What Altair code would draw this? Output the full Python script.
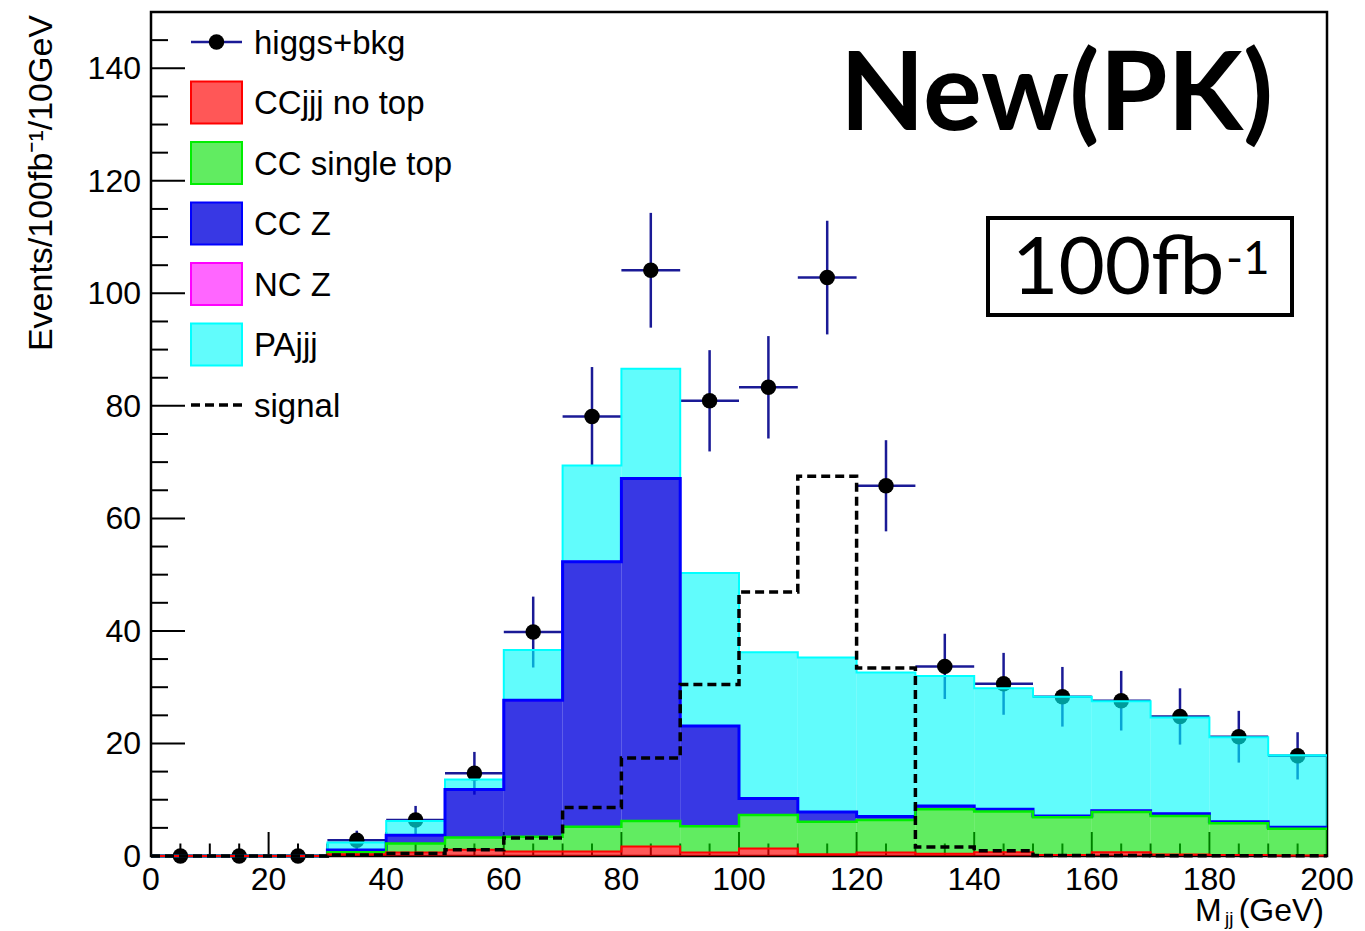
import altair as alt
import pandas as pd

# ---------------------------------------------------------------------------
# Dijet invariant-mass histogram, 10 GeV bins from 0 to 200 GeV
# ---------------------------------------------------------------------------
bin_low = list(range(0, 200, 10))

# background components (events per bin), stacked bottom to top
cc_notop = [0, 0, 0, 0.3, 0.6, 1.1, 0.8, 0.8, 1.7, 0.6,
            1.35, 0.3, 0.6, 0.4, 0.65, 0.2, 0.65, 0.25, 0.2, 0.1]
cc_singletop = [0, 0, 0, 0.35, 1.6, 2.2, 2.6, 4.4, 4.5, 4.7,
                5.95, 5.8, 5.8, 7.9, 7.25, 6.7, 7.15, 6.85, 5.6, 4.75]
cc_z = [0, 0, 0, 0.4, 1.5, 8.5, 24.3, 47.1, 60.9, 17.8,
        2.9, 1.7, 0.6, 0.6, 0.4, 0.2, 0.25, 0.4, 0.3, 0.25]
nc_z = [0, 0, 0, 0, 0, 0, 0, 0, 0, 0,
        0, 0, 0, 0, 0, 0, 0, 0, 0, 0]
pa_jjj = [0, 0, 0, 1.35, 2.5, 1.8, 8.9, 17.1, 19.5, 27.2,
          26.0, 27.5, 25.6, 23.1, 21.5, 21.2, 19.45, 17.1, 15.0, 12.8]

# higgs signal alone
signal = [0, 0, 0, 0.2, 0.45, 1.1, 3.2, 8.6, 17.4, 30.5,
          46.9, 67.5, 33.4, 1.6, 0.95, 0.1, 0.1, 0.05, 0.05, 0.05]

# pseudo-data (higgs + background) with statistical errors
data_vals = [0, 0, 0, 2.8, 6.4, 14.7, 39.8, 78.1, 104.1, 80.9,
             83.3, 102.8, 65.8, 33.7, 30.6, 28.3, 27.6, 24.8, 21.2, 17.8]
data_err = [0, 0, 0, 1.7, 2.5, 3.8, 6.3, 8.8, 10.2, 9.0,
            9.1, 10.1, 8.1, 5.8, 5.5, 5.3, 5.3, 5.0, 4.6, 4.2]

# axis tick labels
x_labels = [0, 20, 40, 60, 80, 100, 120, 140, 160, 180, 200]
y_labels = [0, 20, 40, 60, 80, 100, 120, 140]

processes = ["CCjjj no top", "CC single top", "CC Z", "NC Z", "PAjjj"]
series = [cc_notop, cc_singletop, cc_z, nc_z, pa_jjj]
fill_rgba = ["rgba(255,0,0,0.66)", "rgba(0,225,0,0.62)", "rgba(0,0,220,0.78)",
             "rgba(255,0,255,0.6)", "rgba(0,250,250,0.62)"]
line_col = ["#ff0000", "#00ee00", "#0000ff", "#ff00ff", "#00ffff"]
line_w = [2, 2.5, 3, 2, 2]

BIN_W = 10
X_MAX = 200
Y_MAX = 150
W, H = 1176, 844
FONT = "Liberation Sans"
ERR_COLOR = "#1a1a96"

# ---------------------------------------------------------------------------
# tables
# ---------------------------------------------------------------------------
stack_rows, outline_rows = [], []
cum = [0.0] * len(bin_low)
for proc, vals in zip(processes, series):
    tops = []
    for i, lo in enumerate(bin_low):
        bottom = cum[i]
        top = cum[i] + vals[i]
        stack_rows.append(dict(proc=proc, lo=lo, hi=lo + BIN_W, bottom=bottom, top=top))
        tops.append(top)
        cum[i] = top
    for i, lo in enumerate(bin_low):
        outline_rows.append(dict(proc=proc, edge=lo, top=tops[i]))
    outline_rows.append(dict(proc=proc, edge=X_MAX, top=tops[-1]))
stack_df = pd.DataFrame(stack_rows)
outline_df = pd.DataFrame(outline_rows)

sig_df = pd.DataFrame({"edge": bin_low + [X_MAX], "val": signal + [signal[-1]]})

pts_df = pd.DataFrame({
    "lo": bin_low,
    "hi": [b + BIN_W for b in bin_low],
    "mid": [b + BIN_W / 2 for b in bin_low],
    "val": data_vals,
    "elo": [v - e for v, e in zip(data_vals, data_err)],
    "ehi": [v + e for v, e in zip(data_vals, data_err)],
})

xs = alt.Scale(domain=[0, X_MAX], nice=False, zero=False)
ys = alt.Scale(domain=[0, Y_MAX], nice=False, zero=False)


def X(field, **kw):
    return alt.X(field, scale=xs, axis=None, **kw)


def Y(field, **kw):
    return alt.Y(field, scale=ys, axis=None, **kw)


# ---------------------------------------------------------------------------
# ROOT-style frame axes: inward ticks and labels
# ---------------------------------------------------------------------------
y_tick_df = pd.DataFrame({"v": list(range(0, 146, 5))})
y_tick_df["major"] = y_tick_df["v"] % 20 == 0
x_tick_df = pd.DataFrame({"v": list(range(0, 201, 5))})
x_tick_df["major"] = x_tick_df["v"] % 20 == 0

y_major = alt.Chart(y_tick_df[y_tick_df.major]).mark_rule(color="black", strokeWidth=2).encode(
    y=Y("v:Q"), x=alt.value(0), x2=alt.value(34))
y_minor = alt.Chart(y_tick_df[~y_tick_df.major]).mark_rule(color="black", strokeWidth=2).encode(
    y=Y("v:Q"), x=alt.value(0), x2=alt.value(17))
x_major = alt.Chart(x_tick_df[x_tick_df.major]).mark_rule(color="black", strokeWidth=2).encode(
    x=X("v:Q"), y=alt.value(H), y2=alt.value(H - 24))
x_minor = alt.Chart(x_tick_df[~x_tick_df.major]).mark_rule(color="black", strokeWidth=2).encode(
    x=X("v:Q"), y=alt.value(H), y2=alt.value(H - 12.5))

y_tick_labels = alt.Chart(pd.DataFrame({"v": y_labels})).mark_text(
    align="right", baseline="middle", font=FONT, fontSize=32, color="black", dy=1).encode(
    y=Y("v:Q"), x=alt.value(-10), text=alt.Text("v:Q"))
x_tick_labels = alt.Chart(pd.DataFrame({"v": x_labels})).mark_text(
    align="center", baseline="alphabetic", font=FONT, fontSize=32, color="black").encode(
    x=X("v:Q"), y=alt.value(H + 34), text=alt.Text("v:Q"))

# ---------------------------------------------------------------------------
# pseudo-data: error bars and markers
# ---------------------------------------------------------------------------
base_pts = alt.Chart(pts_df)
err_v = base_pts.mark_rule(color=ERR_COLOR, strokeWidth=2.5).encode(
    x=X("mid:Q"), y=Y("elo:Q"), y2="ehi:Q")
err_h = base_pts.mark_rule(color=ERR_COLOR, strokeWidth=2.5).encode(
    x=X("lo:Q"), x2="hi:Q", y=Y("val:Q"))
markers = base_pts.mark_circle(color="black", opacity=1, size=240).encode(
    x=X("mid:Q"), y=Y("val:Q"))

# ---------------------------------------------------------------------------
# stacked background histogram
# ---------------------------------------------------------------------------
fills = alt.Chart(stack_df).mark_rect(strokeWidth=0).encode(
    x=X("lo:Q"), x2="hi:Q",
    y=Y("bottom:Q"), y2="top:Q",
    color=alt.Color("proc:N", scale=alt.Scale(domain=processes, range=fill_rgba), legend=None),
)

outline_layers = []
for proc, col, lw in reversed(list(zip(processes, line_col, line_w))):
    outline_layers.append(
        alt.Chart(outline_df[outline_df.proc == proc]).mark_line(
            interpolate="step-after", color=col, strokeWidth=lw).encode(
            x=X("edge:Q"), y=Y("top:Q"))
    )

signal_line = alt.Chart(sig_df).mark_line(
    interpolate="step-after", color="black", strokeWidth=3.5, strokeDash=[9, 5]).encode(
    x=X("edge:Q"), y=Y("val:Q"))

# ---------------------------------------------------------------------------
# legend (top-left, no border)
# ---------------------------------------------------------------------------
legend_labels = ["higgs+bkg"] + processes + ["signal"]
ROW0, ROW_STEP = 30, 60.5
leg_df = pd.DataFrame({
    "label": legend_labels,
    "yc": [ROW0 + ROW_STEP * i for i in range(len(legend_labels))],
})
leg_df["ytext"] = leg_df["yc"] + 11.5
box_df = leg_df.iloc[1:6].copy()
box_df["ytop"] = box_df["yc"] - 21
box_df["ybot"] = box_df["yc"] + 21

leg_text = alt.Chart(leg_df).mark_text(
    align="left", baseline="alphabetic", font=FONT, fontSize=33, color="black").encode(
    x=alt.value(103), y=alt.Y("ytext:Q", scale=None, axis=None), text="label:N")
leg_boxes = alt.Chart(box_df).mark_rect(strokeWidth=2).encode(
    x=alt.value(40), x2=alt.value(91),
    y=alt.Y("ytop:Q", scale=None, axis=None), y2="ybot:Q",
    fill=alt.Fill("label:N", scale=alt.Scale(domain=processes, range=fill_rgba), legend=None),
    stroke=alt.Stroke("label:N", scale=alt.Scale(domain=processes, range=line_col), legend=None),
)
leg_data_line = alt.Chart(leg_df.iloc[[0]]).mark_rule(color=ERR_COLOR, strokeWidth=2.5).encode(
    x=alt.value(40), x2=alt.value(91), y=alt.Y("yc:Q", scale=None, axis=None))
leg_data_dot = alt.Chart(leg_df.iloc[[0]]).mark_circle(color="black", opacity=1, size=240).encode(
    x=alt.value(65.5), y=alt.Y("yc:Q", scale=None, axis=None))
leg_sig_line = alt.Chart(leg_df.iloc[[6]]).mark_rule(
    color="black", strokeWidth=3.5, strokeDash=[9, 5]).encode(
    x=alt.value(40), x2=alt.value(91), y=alt.Y("yc:Q", scale=None, axis=None))

# ---------------------------------------------------------------------------
# titles and annotations
# ---------------------------------------------------------------------------
one = pd.DataFrame({"k": [0]})
y_title = alt.Chart(one).mark_text(
    text="Events/100fb⁻¹/10GeV", angle=270, align="right", baseline="alphabetic",
    font=FONT, fontSize=34, color="black").encode(x=alt.value(-99), y=alt.value(3))
x_title_m = alt.Chart(one).mark_text(
    text="M", align="left", baseline="alphabetic", font=FONT, fontSize=32, color="black"
).encode(x=alt.value(1044), y=alt.value(909))
x_title_jj = alt.Chart(one).mark_text(
    text="jj", align="left", baseline="alphabetic", font=FONT, fontSize=19, color="black"
).encode(x=alt.value(1074), y=alt.value(913))
x_title_gev = alt.Chart(one).mark_text(
    text="(GeV)", align="right", baseline="alphabetic", font=FONT, fontSize=32, color="black"
).encode(x=alt.value(1173), y=alt.value(909))

tag_main = alt.Chart(one).mark_text(
    text="New(PK)", align="left", baseline="alphabetic", font="Lato", fontWeight="bold",
    fontSize=110, color="black").encode(x=alt.value(689), y=alt.value(118))
lumi_box = alt.Chart(one).mark_rect(fill="white", stroke="black", strokeWidth=4).encode(
    x=alt.value(837), x2=alt.value(1141), y=alt.value(206), y2=alt.value(303))
lumi_text = alt.Chart(one).mark_text(
    text="100fb", align="left", baseline="alphabetic", font="Lato", fontSize=80,
    color="black").encode(x=alt.value(861), y=alt.value(282))
lumi_exp = alt.Chart(one).mark_text(
    text="-1", align="left", baseline="alphabetic", font="Lato", fontSize=46,
    color="black").encode(x=alt.value(1075), y=alt.value(262))

chart = alt.layer(
    y_major, y_minor, x_major, x_minor, y_tick_labels, x_tick_labels,
    err_v, err_h, markers,
    fills, *outline_layers, signal_line,
    leg_boxes, leg_data_line, leg_data_dot, leg_sig_line, leg_text,
    y_title, x_title_m, x_title_jj, x_title_gev,
    lumi_box, lumi_text, lumi_exp, tag_main,
).properties(
    width=W, height=H,
    autosize=alt.AutoSizeParams(type="none"),
    padding={"left": 151, "top": 12, "right": 38, "bottom": 75},
    background="white",
).configure_view(
    stroke="black", strokeWidth=2.5,
)

chart.save("out.html", embed_options={"renderer": "svg", "actions": False})
